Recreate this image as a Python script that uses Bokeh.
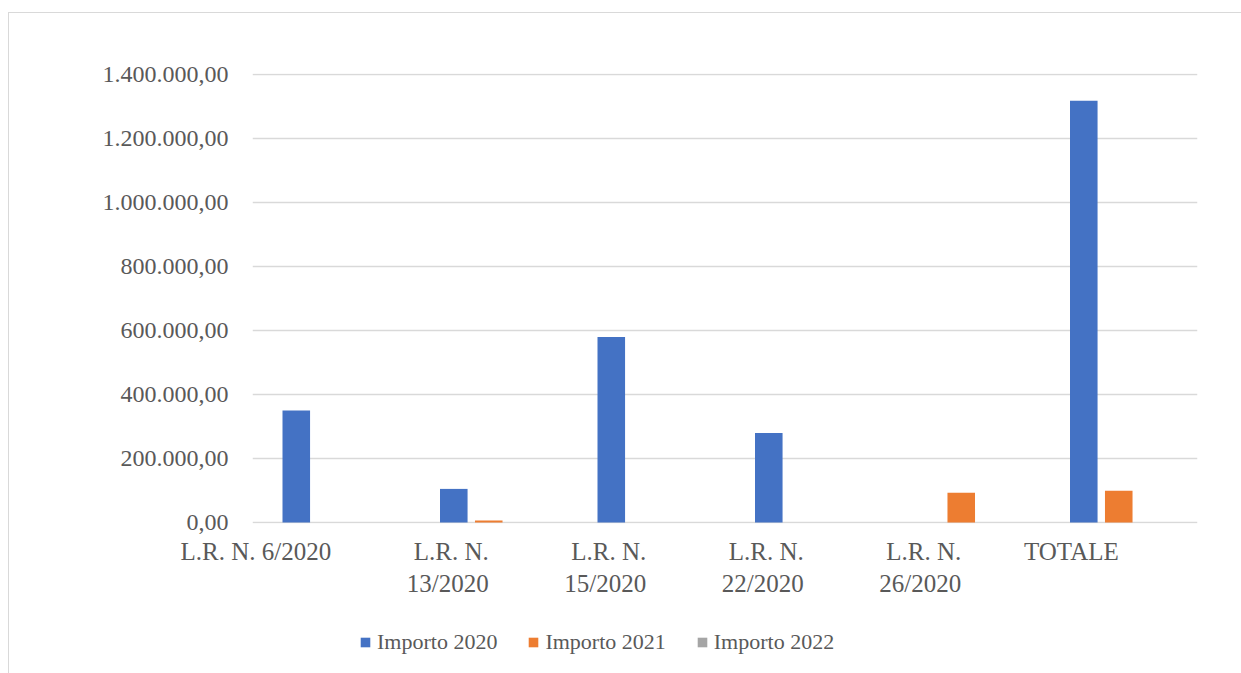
from bokeh.plotting import figure
from bokeh.layouts import column
from bokeh.models import (FactorRange, Range1d, FixedTicker, Legend, LegendItem,
                          ColumnDataSource)
from bokeh.transform import dodge
from bokeh.embed import file_html
from bokeh.resources import INLINE

# Data (single-line names carry an empty second line so all labels top-align)
categories = ["L.R. N. 6/2020\n ", "L.R. N.\n13/2020", "L.R. N.\n15/2020",
              "L.R. N.\n22/2020", "L.R. N.\n26/2020", "TOTALE\n "]
series_names = ["Importo 2020", "Importo 2021", "Importo 2022"]
importo_2020 = [350000, 105000, 580000, 280000, 0, 1318000]
importo_2021 = [0, 6500, 0, 0, 93000, 99500]
importo_2022 = [0, 0, 0, 0, 0, 0]
y_ticks = [0, 200000, 400000, 600000, 800000, 1000000, 1200000, 1400000]

colors = ["#4472C4", "#ED7D31", "#A5A5A5"]
offsets = [-0.222, 0.0, 0.222]
FONT = "Liberation Serif"
TEXT = "#595959"
GRID = "#D9D9D9"

# 1 px of headroom on both ends so the 0 and top gridlines stay visible
PAD = 3125


def it_number(v):
    s = f"{v:,.2f}"
    return s.replace(",", "X").replace(".", ",").replace("X", ".")


source = ColumnDataSource(dict(cat=categories, s0=importo_2020,
                               s1=importo_2021, s2=importo_2022))

p = figure(width=1232, height=616, output_backend="svg", toolbar_location=None,
           x_range=FactorRange(factors=categories, range_padding=0),
           y_range=Range1d(-PAD, y_ticks[-1] + PAD),
           min_border_left=243, min_border_right=44,
           min_border_top=60, min_border_bottom=106)
p.outline_line_color = None
p.background_fill_color = "white"
p.border_fill_color = "white"

for i, name in enumerate(series_names):
    p.vbar(x=dodge("cat", offsets[i], range=p.x_range), top=f"s{i}",
           width=0.175, source=source, fill_color=colors[i], line_color=None)

# Axes
p.yaxis.ticker = FixedTicker(ticks=y_ticks)
p.yaxis.major_label_overrides = {t: it_number(t) for t in y_ticks}
p.yaxis.axis_line_color = None
p.yaxis.major_tick_line_color = None
p.yaxis.minor_tick_line_color = None
p.yaxis.major_label_standoff = 18
p.yaxis.major_label_text_font = FONT
p.yaxis.major_label_text_font_size = "24px"
p.yaxis.major_label_text_color = TEXT

p.xaxis.axis_line_color = None
p.xaxis.major_tick_line_color = None
p.xaxis.minor_tick_line_color = None
p.xaxis.major_label_standoff = 38
p.xaxis.major_label_text_font = FONT
p.xaxis.major_label_text_font_size = "25px"
p.xaxis.major_label_text_color = TEXT
p.xaxis.major_label_orientation = 0

p.xgrid.grid_line_color = None
p.ygrid.grid_line_color = GRID
p.ygrid.grid_line_width = 1.5

# Legend strip under the chart
lf = figure(width=1232, height=44, output_backend="svg", toolbar_location=None,
            x_range=Range1d(0, 1), y_range=Range1d(0, 1), min_border=0)
lf.axis.visible = False
lf.grid.visible = False
lf.outline_line_color = None
lf.border_fill_color = "white"
keys = [lf.vbar(x=[-1], top=[-1], width=0.1, fill_color=c, line_color=None)
        for c in colors]
legend = Legend(items=[LegendItem(label=n, renderers=[r])
                       for n, r in zip(series_names, keys)],
                orientation="horizontal", location=(107, 18),
                label_text_font=FONT, label_text_font_size="22px",
                label_text_color=TEXT, glyph_width=12, glyph_height=12,
                label_standoff=6, spacing=30, padding=0, margin=0,
                border_line_color=None, background_fill_alpha=0)
lf.add_layout(legend)

page = column(p, lf, spacing=0,
              styles={"margin-left": "8px", "margin-top": "12px",
                      "border-left": "1px solid #D9D9D9",
                      "border-top": "1px solid #D9D9D9"})

open("out.html", "w").write(file_html(page, INLINE))
